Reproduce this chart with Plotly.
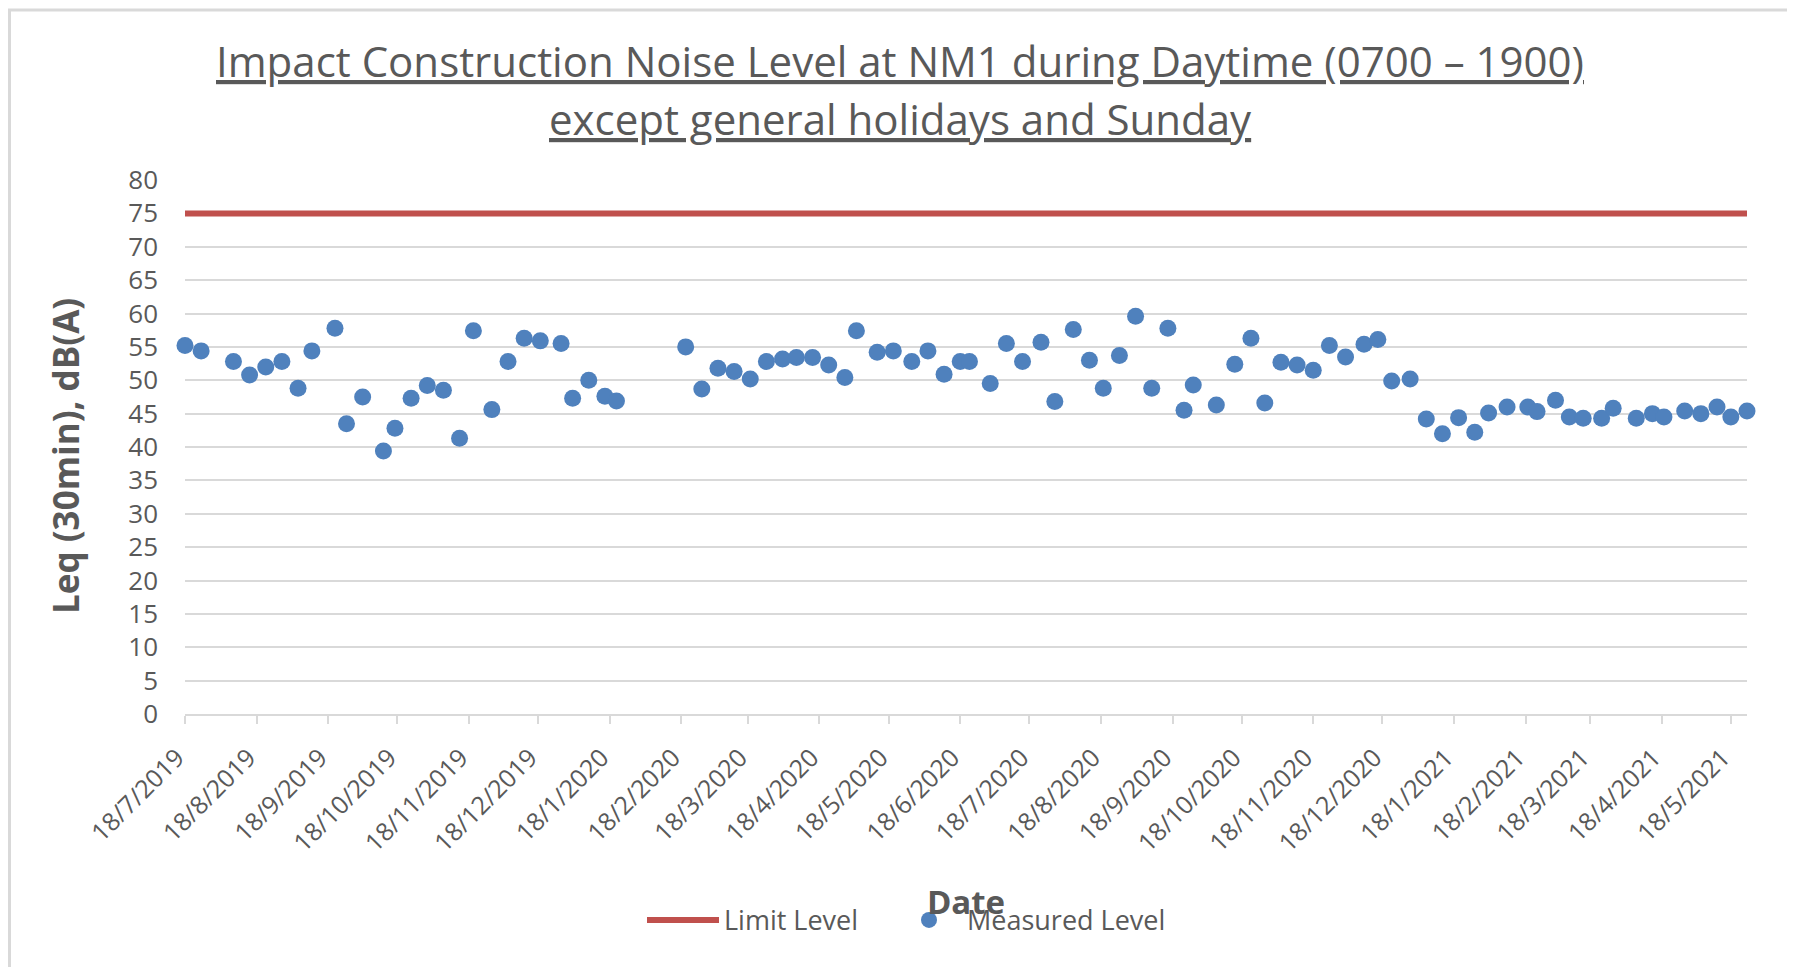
import datetime as dt
import plotly.graph_objects as go

# ---------------- data ----------------
measured_dates = [
    "2019-07-18", "2019-07-25", "2019-08-08", "2019-08-15", "2019-08-22", "2019-08-29",
    "2019-09-05", "2019-09-11", "2019-09-21", "2019-09-26", "2019-10-03", "2019-10-12",
    "2019-10-17", "2019-10-24", "2019-10-31", "2019-11-07", "2019-11-14", "2019-11-20",
    "2019-11-28", "2019-12-05", "2019-12-12", "2019-12-19", "2019-12-28", "2020-01-02",
    "2020-01-09", "2020-01-16", "2020-01-21", "2020-02-20", "2020-02-27", "2020-03-05",
    "2020-03-12", "2020-03-19", "2020-03-26", "2020-04-02", "2020-04-08", "2020-04-15",
    "2020-04-22", "2020-04-29", "2020-05-04", "2020-05-13", "2020-05-20", "2020-05-28",
    "2020-06-04", "2020-06-11", "2020-06-18", "2020-06-22", "2020-07-01", "2020-07-08",
    "2020-07-15", "2020-07-23", "2020-07-29", "2020-08-06", "2020-08-13", "2020-08-19",
    "2020-08-26", "2020-09-02", "2020-09-09", "2020-09-16", "2020-09-23", "2020-09-27",
    "2020-10-07", "2020-10-15", "2020-10-22", "2020-10-28", "2020-11-04", "2020-11-11",
    "2020-11-18", "2020-11-25", "2020-12-02", "2020-12-10", "2020-12-16", "2020-12-22",
    "2020-12-30", "2021-01-06", "2021-01-13", "2021-01-20", "2021-01-27", "2021-02-02",
    "2021-02-10", "2021-02-19", "2021-02-23", "2021-03-03", "2021-03-09", "2021-03-15",
    "2021-03-23", "2021-03-28", "2021-04-07", "2021-04-14", "2021-04-19", "2021-04-28",
    "2021-05-05", "2021-05-12", "2021-05-18", "2021-05-25",
]
measured_levels = [
    55.2, 54.4, 52.8, 50.8, 52.0, 52.8, 48.8, 54.4, 57.8, 43.5, 47.5, 39.4,
    42.8, 47.3, 49.2, 48.5, 41.3, 57.4, 45.6, 52.8, 56.3, 55.9, 55.5, 47.3,
    50.0, 47.6, 46.9, 55.0, 48.7, 51.8, 51.3, 50.2, 52.8, 53.2, 53.4, 53.4,
    52.3, 50.4, 57.4, 54.2, 54.4, 52.8, 54.4, 50.9, 52.8, 52.8, 49.5, 55.5,
    52.8, 55.7, 46.8, 57.6, 53.0, 48.8, 53.7, 59.6, 48.8, 57.8, 45.5, 49.3,
    46.3, 52.4, 56.3, 46.6, 52.7, 52.3, 51.5, 55.2, 53.5, 55.4, 56.1, 49.9,
    50.2, 44.2, 42.0, 44.4, 42.2, 45.1, 46.0, 46.0, 45.3, 47.0, 44.5, 44.3,
    44.3, 45.8, 44.3, 45.0, 44.5, 45.4, 45.0, 46.0, 44.5, 45.4,
]
limit_dates = ["2019-07-18", "2021-05-25"]
limit_levels = [75, 75]

x_tick_labels = [
    "18/7/2019", "18/8/2019", "18/9/2019", "18/10/2019", "18/11/2019", "18/12/2019",
    "18/1/2020", "18/2/2020", "18/3/2020", "18/4/2020", "18/5/2020", "18/6/2020",
    "18/7/2020", "18/8/2020", "18/9/2020", "18/10/2020", "18/11/2020", "18/12/2020",
    "18/1/2021", "18/2/2021", "18/3/2021", "18/4/2021", "18/5/2021",
]
x_tick_values = [dt.datetime.strptime(t, "%d/%m/%Y").strftime("%Y-%m-%d") for t in x_tick_labels]

title_line1 = "Impact Construction Noise Level at NM1 during Daytime (0700 – 1900)"
title_line2 = "except general holidays and Sunday"
y_title = "Leq (30min), dB(A)"
x_title = "Date"

# ---------------- style ----------------
FONT = "Open Sans"
TXT = "#595959"
GRID = "#d9d9d9"

# page body has an 8px margin; work in screen pixels and convert
OFF = 8
W, H = 1795 - OFF, 967 - OFF
plot_left, plot_right, plot_top, plot_bottom = 185, 1747, 179.7, 714.4  # screen px
L = plot_left - OFF
R = W - (plot_right - OFF)
T = plot_top - OFF
B = H - (plot_bottom - OFF)
pw, ph = W - L - R, H - T - B

def px_x(p):
    return (p - plot_left) / pw

def px_y(p):
    return (plot_bottom - p) / ph

fig = go.Figure()
fig.add_trace(go.Scatter(
    x=limit_dates, y=limit_levels, mode="lines", name="Limit Level",
    line=dict(color="#C0504D", width=6), cliponaxis=False, legend="legend",
))
fig.add_trace(go.Scatter(
    x=measured_dates, y=measured_levels, mode="markers", name="Measured Level",
    marker=dict(color="#4F81BD", size=17, line=dict(width=0)), cliponaxis=False,
    legend="legend2",
))

legend_common = dict(
    orientation="h", yanchor="middle", y=px_y(921), xanchor="left",
    font=dict(size=27, color=TXT, family=FONT), bgcolor="rgba(0,0,0,0)",
)

fig.update_layout(
    width=W, height=H,
    margin=dict(l=L, r=R, t=T, b=B, autoexpand=False),
    paper_bgcolor="white", plot_bgcolor="white",
    font=dict(family=FONT, color=TXT),
    showlegend=True,
    legend=dict(x=px_x(642), itemwidth=72, **legend_common),
    legend2=dict(x=px_x(891), itemwidth=66, **legend_common),
    xaxis=dict(
        type="date", range=[limit_dates[0], limit_dates[-1]],
        tickmode="array", tickvals=x_tick_values, ticktext=x_tick_labels,
        tickangle=-45, tickfont=dict(size=25, color=TXT, family=FONT),
        ticks="outside", ticklen=8, tickwidth=2, tickcolor=GRID,
        showline=True, linecolor=GRID, linewidth=2,
        showgrid=False, zeroline=False, ticklabelstandoff=9, ticklabelshift=-8,
        title=dict(text="<b>" + x_title + "</b>", font=dict(size=33, color=TXT, family=FONT), standoff=34),
    ),
    yaxis=dict(
        range=[0, 80], tickmode="linear", tick0=0, dtick=5,
        tickfont=dict(size=26, color=TXT, family=FONT),
        showgrid=True, gridcolor=GRID, gridwidth=2,
        showline=False, zeroline=False, ticks="", ticklabelstandoff=26,
    ),
    annotations=[
        dict(text="<u>" + title_line1 + "</u>", xref="paper", yref="paper",
             x=px_x(900), y=px_y(60), xanchor="center", yanchor="middle",
             showarrow=False, font=dict(size=42, color=TXT, family=FONT)),
        dict(text="<u>" + title_line2 + "</u>", xref="paper", yref="paper",
             x=px_x(900), y=px_y(118), xanchor="center", yanchor="middle",
             showarrow=False, font=dict(size=42, color=TXT, family=FONT)),
        dict(text="<b>" + y_title + "</b>", xref="paper", yref="paper",
             x=px_x(66), y=px_y(456), xanchor="center", yanchor="middle",
             textangle=-90, showarrow=False, font=dict(size=35, color=TXT, family=FONT)),
    ],
    shapes=[
        dict(type="rect", xref="paper", yref="paper",
             x0=px_x(9.5), x1=px_x(1791), y0=px_y(1000), y1=px_y(9.5),
             line=dict(color=GRID, width=3), fillcolor="rgba(0,0,0,0)", layer="below"),
    ],
)

fig.write_html("out.html")
